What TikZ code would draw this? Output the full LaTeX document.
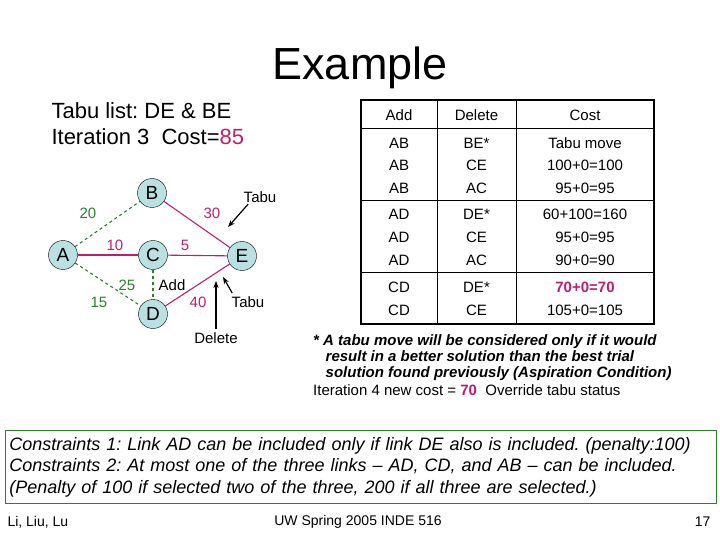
\documentclass[tikz,border=0pt]{standalone}
\usepackage{fontspec}
\setmainfont{Liberation Sans}
\usetikzlibrary{arrows.meta}
\definecolor{mag}{RGB}{190,30,110}
\definecolor{grn}{RGB}{40,130,40}
\definecolor{ncyan}{RGB}{185,225,225}
\frenchspacing
\begin{document}
\begin{tikzpicture}[x=1pt,y=-1pt,
  vtx/.style={circle,draw,fill=ncyan,minimum size=29pt,inner sep=0pt,font=\fontsize{19}{21}\selectfont},
  red/.style={mag,line width=1.1pt},
  gd/.style={grn,line width=1.1pt,dashed},
  lab/.style={font=\fontsize{15}{17}\selectfont},
  tx/.style={font=\fontsize{15}{17}\selectfont,inner sep=0pt},
  arr/.style={-{Stealth[length=7pt]},line width=1.2pt}]
\useasboundingbox (0,0) rectangle (720,540);
\node[font=\fontsize{45}{50}\selectfont] (title) at (360,68) {Example};
\node[anchor=west,font=\fontsize{22}{26}\selectfont,align=left] (tl) at (48,124) {Tabu list: DE \& BE\\Iteration 3\ \ Cost=\textcolor{mag}{85}};
% graph
\node[vtx] (B) at (152,193) {B};
\node[vtx] (A) at (63,255) {A};
\node[vtx] (C) at (153,255) {C};
\node[vtx] (E) at (242,256) {E};
\node[vtx] (D) at (153,314) {D};
\draw[gd] (A) -- (B);
\draw[gd] (A) -- (D);
\draw[gd] (C) -- (D);
\draw[red] (B) -- (E);
\draw[red] (A) -- (C);
\draw[red] (C) -- (E);
\draw[red] (D) -- (E);
\node[lab,grn] (l20) at (88,213) {20};
\node[lab,mag] (l30) at (212,213) {30};
\node[lab,mag] (l10) at (115,245) {10};
\node[lab,mag] (l5) at (185,245) {5};
\node[lab,grn] (l25) at (127,285) {25};
\node[lab,grn] (l15) at (99,302) {15};
\node[lab] (ladd) at (172,285) {Add};
\node[lab,mag] (l40) at (198,302) {40};
\node[lab] (t1) at (260,197) {Tabu};
\node[lab] (t2) at (248,302) {Tabu};
\node[lab] (del) at (216,338) {Delete};
\coordinate (a1) at (228,227);
\coordinate (a2) at (223,277);
\coordinate (a3) at (216,281);
\draw[arr] (t1.south west) ++(8,-2) -- (a1);
\draw[arr] (t2.north west) ++(4,0) -- (a2);
\draw[arr] (del.north) -- (a3);
% table
\draw[line width=1.1pt] (361,100) rectangle (654,324);
\draw[line width=0.8pt] (437,100) -- (437,324) (516,100) -- (516,324)
  (361,128) -- (654,128) (361,200) -- (654,200) (361,272) -- (654,272);
\foreach \y/\a/\b/\c in {115/Add/Delete/Cost,143/AB/BE*/Tabu move,165/AB/CE/100+0=100,188/AB/AC/95+0=95,
  214/AD/DE*/60+100=160,237/AD/CE/95+0=95,260/AD/AC/90+0=90,287/CD/DE*/,310/CD/CE/105+0=105}{
  \node[tx] at (399,\y) {\a};
  \node[tx] at (476.5,\y) {\b};
  \node[tx] at (585,\y) {\c};}
\node[tx,mag,font=\fontsize{15}{17}\selectfont\bfseries] (best) at (585,287) {70+0=70};
% footnote
\node[anchor=north west,inner sep=0pt,align=left,font=\fontsize{15}{16}\selectfont\bfseries\itshape] (fn) at (313,334)
 {* A tabu move will be considered only if it would\\\ \ \ result in a better solution than the best trial\\\ \ \ solution found previously (Aspiration Condition)};
\node[anchor=west,inner sep=0pt,font=\fontsize{15}{17}\selectfont] (it4) at (313,390) {Iteration 4 new cost = \textcolor{mag}{\bfseries 70}\ \ Override tabu status};
% constraints
\node[draw=grn,line width=0.8pt,anchor=north west,minimum width=711pt,minimum height=73pt,inner sep=4pt,text width=703pt,align=left,
  font=\fontsize{18}{21.5}\selectfont\itshape] (box) at (5,430)
 {Constraints 1: Link AD can be included only if link DE also is included. (penalty:100)\\
 Constraints 2: At most one of the three links -- AD, CD, and AB -- can be included.\\
 (Penalty of 100 if selected two of the three, 200 if all three are selected.)};
\node[anchor=west,font=\fontsize{14}{16}\selectfont] (f1) at (4,522) {Li, Liu, Lu};
\node[font=\fontsize{14}{16}\selectfont] (f2) at (358,522) {UW Spring 2005 INDE 516};
\node[anchor=east,font=\fontsize{14}{16}\selectfont] (f3) at (714,522) {17};
\end{tikzpicture}
\end{document}
